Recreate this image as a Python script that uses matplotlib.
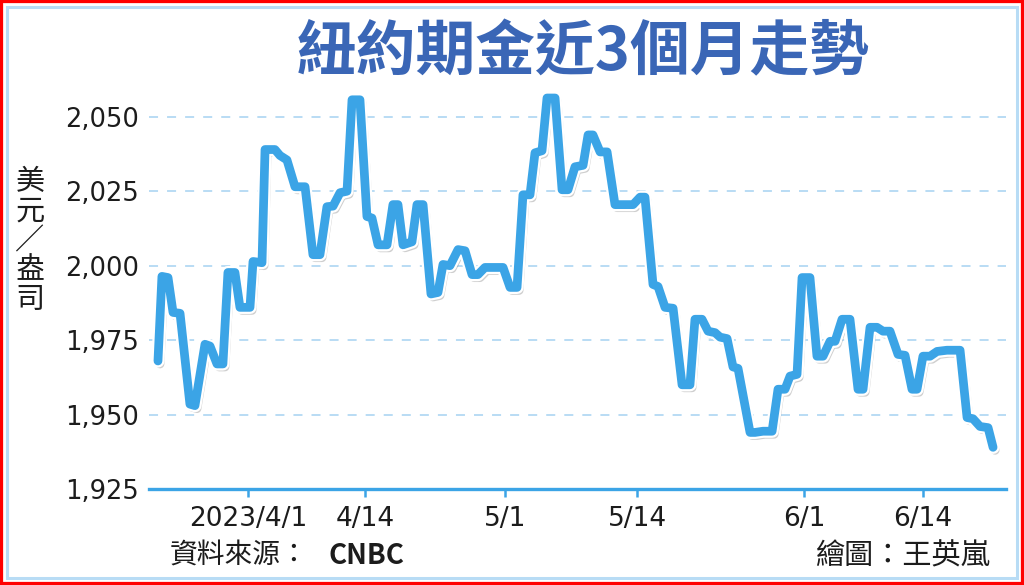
import matplotlib
matplotlib.use("Agg")
import matplotlib.pyplot as plt
import matplotlib.patheffects as pe
from matplotlib.patches import Rectangle

# ---- data (x in trading-day units relative to 2023/4/1) ----
x_days = [-6.97, -6.67, -6.21, -5.83, -5.30, -4.55, -4.17, -3.41, -3.03, -2.50,
          -2.05, -1.67, -1.14, -0.76, 0.00, 0.23, 0.91, 1.14, 1.89, 2.27,
          2.80, 3.41, 4.17, 4.77, 5.30, 5.83, 6.29, 6.82, 7.35, 7.73,
          8.33, 8.86, 9.24, 9.70, 10.38, 10.83, 11.21, 11.59, 12.27, 12.65,
          13.11, 13.71, 14.24, 14.62, 15.15, 15.76, 16.29, 16.82, 17.27, 17.80,
          19.17, 19.70, 20.23, 20.68, 21.21, 21.59, 22.12, 22.50, 23.11, 23.64,
          24.09, 24.62, 25.23, 25.61, 25.98, 26.52, 27.05, 27.65, 29.02, 29.55,
          29.92, 30.53, 30.91, 31.44, 32.05, 32.73, 33.33, 33.71, 34.24, 34.70,
          35.23, 35.61, 36.14, 36.59, 36.97, 37.88, 38.26, 38.86, 39.55, 40.00,
          40.53, 40.91, 41.44, 41.82, 42.42, 42.95, 43.41, 43.94, 44.32, 44.85,
          45.45, 46.06, 46.44, 46.97, 47.50, 47.95, 48.48, 49.09, 49.62, 50.15,
          50.53, 50.98, 51.52, 52.05, 52.80, 53.79, 54.32, 54.77, 55.30, 55.91,
          56.29]
price = [1968, 1996.4, 1996, 1984.3, 1984, 1953.5, 1953, 1973.6, 1973, 1967,
         1967, 1997.7, 1997.7, 1986, 1986, 2001.4, 2001, 2039, 2039, 2037,
         2035.5, 2026.5, 2026.5, 2003.7, 2003.7, 2019.8, 2020, 2024.5, 2025, 2055.7,
         2055.7, 2016.5, 2016, 2007, 2007, 2020.5, 2020.5, 2007, 2008, 2020.5,
         2020.5, 1990.5, 1991, 2000.4, 2000, 2005.4, 2005, 1997, 1997, 1999.4,
         1999.4, 1992.7, 1992.7, 2023.8, 2023.8, 2037.9, 2038.6, 2056.3, 2056.3, 2025.5,
         2025.5, 2033.2, 2033.7, 2043.9, 2043.9, 2038.2, 2038.2, 2020.5, 2020.5, 2023,
         2023, 1993.7, 1993, 1986, 1985.7, 1960, 1960, 1982, 1982, 1978,
         1977.5, 1976, 1975.5, 1966, 1965.5, 1944, 1944, 1944.4, 1944.4, 1958.5,
         1958.5, 1962.9, 1963.5, 1996, 1996, 1969.6, 1969.6, 1974.6, 1974.6, 1982,
         1982, 1958.5, 1958.5, 1979.3, 1979.3, 1978, 1978, 1970.2, 1969.9, 1958.5,
         1958.5, 1969.6, 1969.6, 1971.2, 1971.6, 1971.6, 1949, 1948.6, 1946, 1945.6,
         1939]

x_tick_pos = [-0.15, 8.71, 19.32, 29.32, 41.97, 50.98]
x_tick_labels = ["2023/4/1", "4/14", "5/1", "5/14", "6/1", "6/14"]
y_ticks = [1925, 1950, 1975, 2000, 2025, 2050]
y_tick_labels = ["1,925", "1,950", "1,975", "2,000", "2,025", "2,050"]

title = "紐約期金近3個月走勢"
ylabel = "美元／盎司"
source_label = "資料來源："
source_name = "CNBC"
credit = "繪圖：王英嵐"

# ---- styling ----
plt.rcParams['font.family'] = ['DejaVu Sans', 'Noto Sans CJK TC']
cjk = ['Noto Sans CJK TC', 'DejaVu Sans']
line_blue = '#3ba4e6'
grid_blue = '#b3d9f3'
text_dark = '#1c1c1c'

W, H = 1024, 585
fig = plt.figure(figsize=(W / 100, H / 100), dpi=100)
fig.patch.set_facecolor('white')

ax_left, ax_right = 149 / W, 1006 / W
ax_bottom, ax_top = 1 - 489 / H, 1 - 87 / H
ax = fig.add_axes([ax_left, ax_bottom, ax_right - ax_left, ax_top - ax_bottom])
ax.set_facecolor('none')

ax.set_xlim(-7.65, 57.27)
ax.set_ylim(1925, 2060)

for v in y_ticks[1:]:
    ax.axhline(v, color=grid_blue, lw=1.3, ls=(0, (5, 5)), zorder=1)

ax.plot(x_days, price, color=line_blue, lw=6.3, solid_joinstyle='round',
        solid_capstyle='round', zorder=3,
        path_effects=[pe.SimpleLineShadow(offset=(1.5, -2.2), shadow_color='#777777', alpha=0.35),
                      pe.Stroke(linewidth=9.5, foreground='white'),
                      pe.Normal()])

for s in ['top', 'right', 'left']:
    ax.spines[s].set_visible(False)
ax.spines['bottom'].set_color(line_blue)
ax.spines['bottom'].set_linewidth(2.4)

ax.set_xticks(x_tick_pos)
ax.set_xticklabels(x_tick_labels, fontsize=19, color=text_dark)
ax.tick_params(axis='x', direction='out', length=6, width=1.8, color=line_blue, pad=6)
ax.set_yticks(y_ticks)
ax.set_yticklabels(y_tick_labels, fontsize=18.5, color=text_dark)
ax.tick_params(axis='y', length=0, pad=7)

# title
fig.text(583 / W, 1 - 53 / H, title, family=cjk, fontsize=43, fontweight='bold',
         color='#3a66b6', ha='center', va='center')

# y label stacked
fig.text(30 / W, 1 - 241 / H, "\n".join(ylabel), family=cjk, fontsize=21,
         color=text_dark, ha='center', va='center', linespacing=0.98)

# bottom texts
fig.text(170 / W, 1 - 556 / H, source_label, family=cjk, fontsize=20,
         color=text_dark, ha='left', va='center')
fig.text(328 / W, 1 - 556 / H, source_name, family=cjk, fontsize=20, fontweight='bold',
         color=text_dark, ha='left', va='center')
fig.text(990 / W, 1 - 556 / H, credit, family=cjk, fontsize=21,
         color=text_dark, ha='right', va='center')

# frame
fig.add_artist(Rectangle((7 / W, 7 / H), 1 - 14 / W, 1 - 14 / H, transform=fig.transFigure,
                         fill=False, edgecolor='#b8dcf5', linewidth=2.2))
fig.add_artist(Rectangle((0, 0), 1, 1, transform=fig.transFigure,
                         fill=False, edgecolor='#ff0000', linewidth=4.5))

fig.savefig("out.png", dpi=100)
